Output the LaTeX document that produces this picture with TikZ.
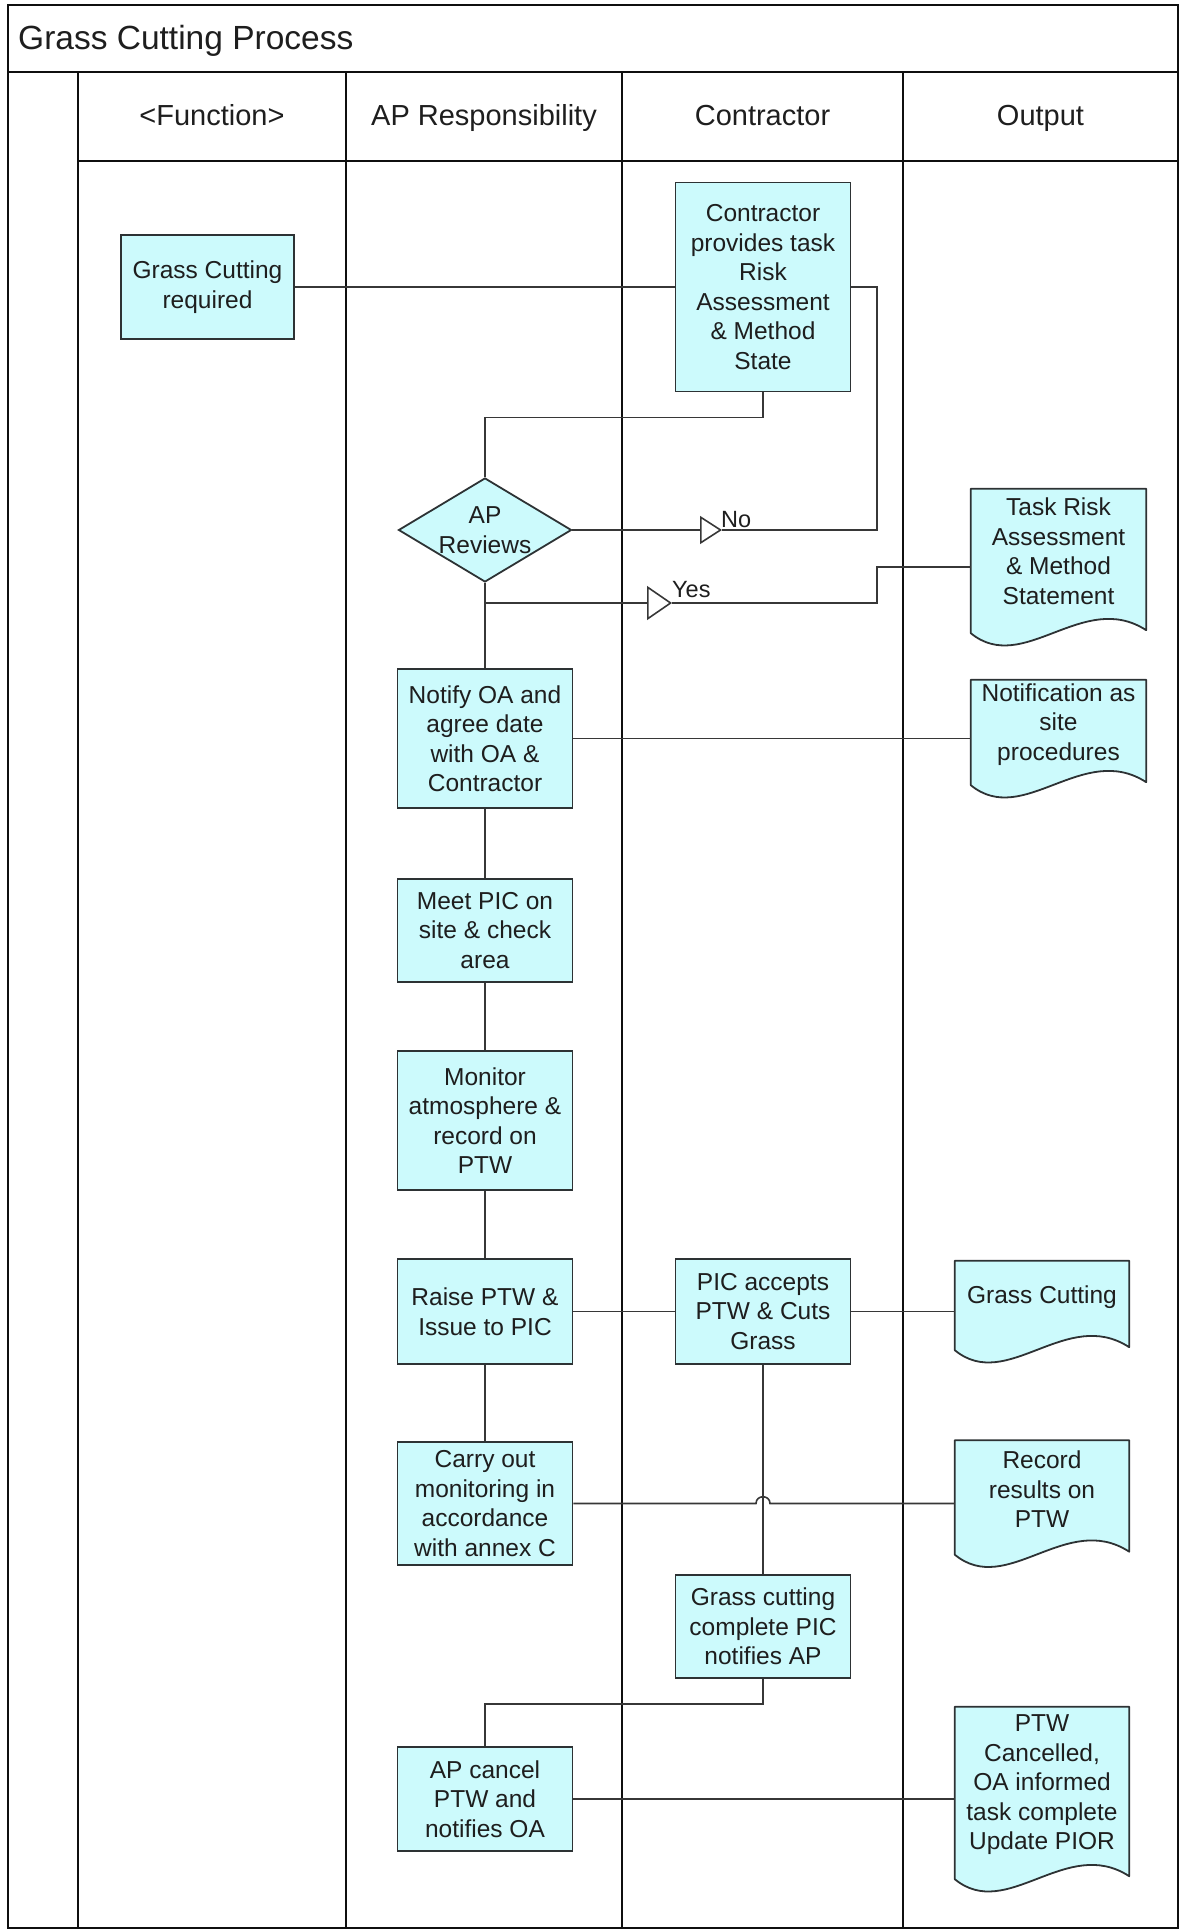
\documentclass[tikz,border=0pt]{standalone}
\usepackage{fontspec}
\setmainfont{Liberation Sans}
\usetikzlibrary{arrows.meta,calc,shapes.geometric}

\definecolor{boxfill}{RGB}{204,250,252}
\definecolor{boxline}{RGB}{45,50,52}
\definecolor{wireline}{RGB}{55,55,55}
\definecolor{laneline}{RGB}{15,15,15}
\definecolor{inktext}{RGB}{30,30,30}

\newcommand\bodysize{\fontsize{24.5pt}{29.5pt}\selectfont}
\newcommand\headsize{\fontsize{29pt}{34pt}\selectfont}
\newcommand\titlesize{\fontsize{33.5pt}{40pt}\selectfont}

% document symbol: straight top and sides, wavy bottom edge
\newcommand\docoutline[1]{%
  \draw[docline] (#1.north west) -- (#1.north east) -- ($(#1.south east)+(0,-15)$)
    .. controls ($(#1.south west)!0.64!(#1.south east)+(0,-56)$)
           and ($(#1.south west)!0.30!(#1.south east)+(0,31)$)
    .. ($(#1.south west)+(0,-12)$) -- cycle;}

\begin{document}
\begin{tikzpicture}[x=1pt,y=-1pt,
  lane/.style={draw=laneline, line width=1.6pt},
  procbox/.style={draw=boxline, fill=boxfill, line width=1.8pt, rectangle,
    align=center, inner sep=0pt, font=\bodysize, text=inktext},
  decision/.style={draw=boxline, fill=boxfill, line width=1.8pt, diamond,
    inner sep=0pt, minimum width=173pt, minimum height=104pt},
  docarea/.style={rectangle, inner sep=0pt},
  docline/.style={draw=boxline, fill=boxfill, line width=1.8pt, line join=round},
  doctext/.style={align=center, inner sep=0pt, font=\bodysize, text=inktext},
  wire/.style={draw=wireline, line width=1.6pt},
  flowlabel/.style={inner sep=0pt, font=\fontsize{23.5pt}{28pt}\selectfont, text=inktext},
  lanehead/.style={anchor=base, inner sep=0pt, font=\headsize, text=inktext},
]
\useasboundingbox (0,0) rectangle (1183,1932);

% ---- swimlane frame ----
\draw[lane, line width=2pt] (8,5) rectangle (1178,1928);
\draw[lane, line width=2pt] (8,72) -- (1178,72);
\draw[lane] (78,161) -- (1178,161);
\foreach \lx in {78,346,622,903} \draw[lane] (\lx,72) -- (\lx,1928);

\node[anchor=base west, inner sep=0pt, font=\titlesize, text=inktext] (title) at (18,50) {Grass Cutting Process};
\node[lanehead] (hfunc) at (212,126) {<Function>};
\node[lanehead] (hap) at (484,126) {AP Responsibility};
\node[lanehead] (hcon) at (762.5,126) {Contractor};
\node[lanehead] (hout) at (1040.5,126) {Output};

% ---- process steps ----
\node[procbox, minimum width=173pt, minimum height=104pt] (req) at (207.5,287) {Grass Cutting\\required};
\node[procbox, minimum width=175pt, minimum height=209pt] (contr) at (763,287) {Contractor\\provides task\\Risk\\Assessment\\\& Method\\State};
\node[decision, label={[doctext]center:AP\\Reviews}] (review) at (485,530) {};
\node[procbox, minimum width=175pt, minimum height=139pt] (notify) at (485,738.5) {Notify OA and\\agree date\\with OA \&\\Contractor};
\node[procbox, minimum width=175pt, minimum height=103pt] (meet) at (485,930.5) {Meet PIC on\\site \& check\\area};
\node[procbox, minimum width=175pt, minimum height=139pt] (monitor) at (485,1120.5) {Monitor\\atmosphere \&\\record on\\PTW};
\node[procbox, minimum width=175pt, minimum height=105pt] (raise) at (485,1311.5) {Raise PTW \&\\Issue to PIC};
\node[procbox, minimum width=175pt, minimum height=105pt] (pic) at (763,1311.5) {PIC accepts\\PTW \& Cuts\\Grass};
\node[procbox, minimum width=175pt, minimum height=123pt] (carry) at (485,1503.5) {Carry out\\monitoring in\\accordance\\with annex C};
\node[procbox, minimum width=175pt, minimum height=103pt] (complete) at (763,1626.5) {Grass cutting\\complete PIC\\notifies AP};
\node[procbox, minimum width=175pt, minimum height=104pt] (cancel) at (485,1799) {AP cancel\\PTW and\\notifies OA};

% ---- output documents ----
\node[docarea, minimum width=175pt, minimum height=156pt] (taskdoc) at (1058.5,567) {};
\docoutline{taskdoc}
\node[doctext] (taskdoc-t) at ($(taskdoc.center)+(0,-16)$) {Task Risk\\Assessment\\\& Method\\Statement};

\node[docarea, minimum width=175pt, minimum height=117pt] (notifdoc) at (1058.5,738.5) {};
\docoutline{notifdoc}
\node[doctext] (notifdoc-t) at ($(notifdoc.center)+(0,-14)$) {Notification as\\site\\procedures};

\node[docarea, minimum width=174pt, minimum height=101pt] (gcdoc) at (1042,1311.5) {};
\docoutline{gcdoc}
\node[doctext] (gcdoc-t) at ($(gcdoc.center)+(0,-14)$) {Grass Cutting};

\node[docarea, minimum width=174pt, minimum height=126pt] (recdoc) at (1042,1503.5) {};
\docoutline{recdoc}
\node[doctext] (recdoc-t) at ($(recdoc.center)+(0,-14)$) {Record\\results on\\PTW};

\node[docarea, minimum width=174pt, minimum height=184pt] (ptwdoc) at (1042,1799) {};
\docoutline{ptwdoc}
\node[doctext] (ptwdoc-t) at ($(ptwdoc.center)+(0,-14)$) {PTW\\Cancelled,\\OA informed\\task complete\\Update PIOR};

% ---- connectors ----
\draw[wire] (req.east) -- (contr.west);
\draw[wire] (contr.south) -- ++(0,25) -| (review.north);

% "No" branch back to the contractor
\coordinate (notip) at (722,530);
\coordinate (nojog) at (877,530);
\draw[wire, -{Triangle[open,length=22pt,width=28pt]}] (review.east) -- (notip);
\draw[wire] (notip) -- (nojog) |- (contr.east);
\node[flowlabel, anchor=base west] (nolabel) at ($(notip)+(-1,-3)$) {No};

% "Yes" branch to the method statement
\draw[wire] (review.south) -- (notify.north);
\coordinate (yesfork) at (485,603);
\coordinate (yestip) at (672,603);
\coordinate (yesjog) at (877,603);
\draw[wire, -{Triangle[open,length=25pt,width=34pt]}] (yesfork) -- (yestip);
\draw[wire] (yestip) -- (yesjog) |- (taskdoc.west);
\node[flowlabel, anchor=base west] (yeslabel) at ($(yestip)+(0,-6)$) {Yes};

\draw[wire] (notify.east) -- (notifdoc.west);
\draw[wire] (notify.south) -- (meet.north);
\draw[wire] (meet.south) -- (monitor.north);
\draw[wire] (monitor.south) -- (raise.north);
\draw[wire] (raise.south) -- (carry.north);
\draw[wire] (raise.east) -- (pic.west);
\draw[wire] (pic.east) -- (gcdoc.west);
\draw[wire] (pic.south) -- (complete.north);

% monitoring record line hops over the contractor's vertical connector
\coordinate (hop) at (pic.south |- carry.east);
\draw[wire] (carry.east) -- ($(hop)+(-7,0)$)
  .. controls ($(hop)+(-7,-9)$) and ($(hop)+(7,-9)$) .. ($(hop)+(7,0)$) -- (recdoc.west);

\draw[wire] (complete.south) -- ++(0,25) -| (cancel.north);
\draw[wire] (cancel.east) -- (ptwdoc.west);
\end{tikzpicture}
\end{document}
